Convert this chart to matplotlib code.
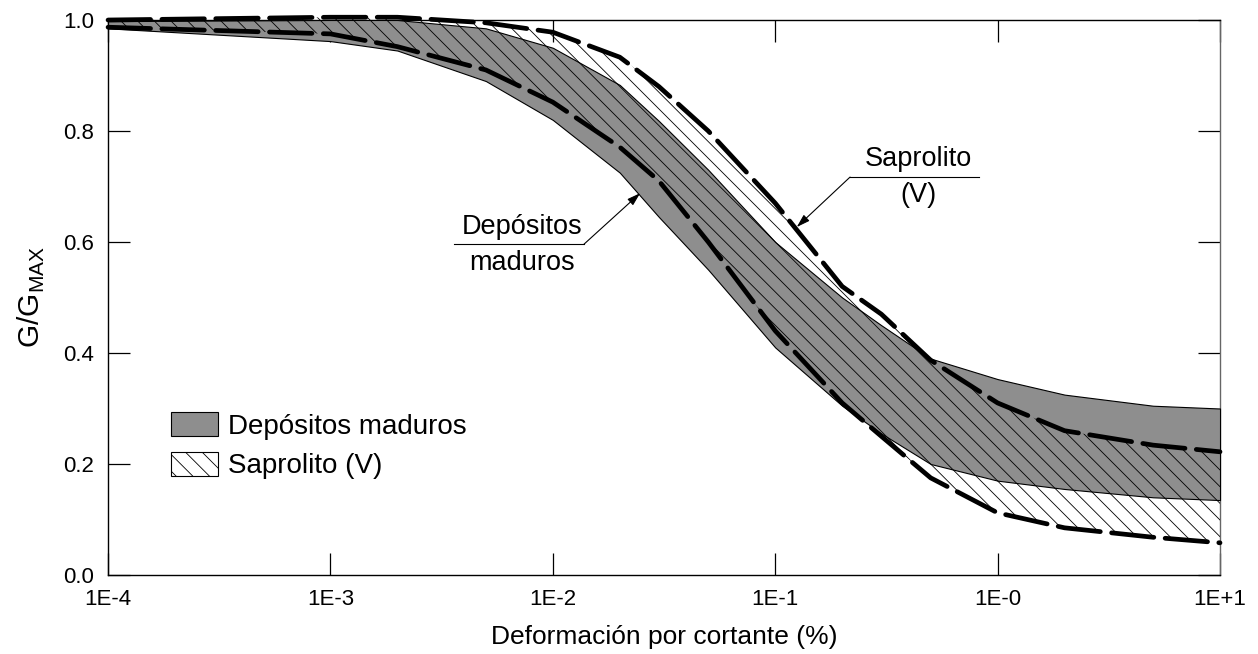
import matplotlib
matplotlib.use("Agg")
import matplotlib.pyplot as plt
from matplotlib.patches import Patch

plt.rcParams['font.family'] = ['Liberation Sans', 'DejaVu Sans']
plt.rcParams['mathtext.fontset'] = 'custom'
plt.rcParams['mathtext.rm'] = 'Liberation Sans'
plt.rcParams['hatch.linewidth'] = 0.6

# deformacion por cortante (%)
strain = [1e-4, 1e-3, 2e-3, 5e-3, 1e-2, 2e-2, 3e-2, 5e-2, 1e-1, 2e-1, 3e-1, 5e-1, 1, 2, 5, 10]

# Depositos maduros (banda gris)
dep_upper = [0.998, 1.0, 1.0, 0.985, 0.95, 0.883, 0.818, 0.73, 0.60, 0.50, 0.45, 0.39, 0.353, 0.325, 0.305, 0.30]
dep_lower = [0.985, 0.962, 0.945, 0.89, 0.82, 0.725, 0.645, 0.55, 0.41, 0.305, 0.255, 0.20, 0.17, 0.155, 0.14, 0.135]

# Saprolito (V) (banda rayada, limites a trazos)
sap_upper = [1.0, 1.005, 1.005, 0.995, 0.978, 0.933, 0.88, 0.80, 0.67, 0.52, 0.47, 0.387, 0.31, 0.26, 0.234, 0.222]
sap_lower = [0.987, 0.975, 0.952, 0.91, 0.852, 0.771, 0.71, 0.60, 0.44, 0.31, 0.25, 0.175, 0.112, 0.085, 0.068, 0.058]

xticks = [1e-4, 1e-3, 1e-2, 1e-1, 1, 10]
xticklabels = ['1E-4', '1E-3', '1E-2', '1E-1', '1E-0', '1E+1']
yticks = [0.0, 0.2, 0.4, 0.6, 0.8, 1.0]

fig = plt.figure(figsize=(12.58, 6.54), dpi=100)
ax = fig.add_axes([0.0859, 0.1208, 0.8839, 0.8486])

gray = '#8e8e8e'
ax.fill_between(strain, dep_lower, dep_upper, facecolor=gray, edgecolor='black',
                linewidth=0.8, zorder=3, clip_on=False)
ax.fill_between(strain, sap_lower, sap_upper, facecolor='none', edgecolor='black',
                hatch='\\\\', linewidth=0, zorder=4, clip_on=False)
for yy in (sap_upper, sap_lower):
    ax.plot(strain, yy, color='black', lw=3.4, dashes=(9, 2.4),
            dash_capstyle='round', zorder=5, clip_on=False)

ax.set_xscale('log')
ax.set_xlim(1e-4, 10)
ax.set_ylim(0, 1.0)
ax.set_xticks(xticks)
ax.set_xticklabels(xticklabels)
ax.xaxis.set_minor_locator(matplotlib.ticker.NullLocator())
ax.set_yticks(yticks)
ax.set_yticklabels(['%.1f' % v for v in yticks])
ax.tick_params(direction='in', length=16, width=0.9, top=True, right=True,
               labelsize=16, pad=10)
for s in ax.spines.values():
    s.set_linewidth(1.0)
ax.spines['right'].set_color('#666666')

ax.set_xlabel('Deformación por cortante (%)', fontsize=19, labelpad=11)
ax.set_ylabel(r'G/G$_{\rm MAX}$', fontsize=21.5, labelpad=12)

# anotaciones
ax.text(7.28e-3, 0.627, 'Depósitos', fontsize=19.5, ha='center', va='center', zorder=6)
ax.text(7.28e-3, 0.562, 'maduros', fontsize=19.5, ha='center', va='center', zorder=6)
ax.plot([3.6e-3, 1.38e-2], [0.596, 0.596], color='black', lw=0.8, zorder=6)
ax.annotate('', xy=(0.0247, 0.688), xytext=(1.38e-2, 0.596),
            arrowprops=dict(arrowstyle='-|>,head_length=0.8,head_width=0.25',
                            color='black', lw=0.8, shrinkA=0, shrinkB=0), zorder=6)

ax.text(0.44, 0.75, 'Saprolito', fontsize=19.5, ha='center', va='center', zorder=6)
ax.text(0.44, 0.685, '(V)', fontsize=19.5, ha='center', va='center', zorder=6)
ax.plot([0.217, 0.824], [0.717, 0.717], color='black', lw=0.8, zorder=6)
ax.annotate('', xy=(0.125, 0.627), xytext=(0.217, 0.717),
            arrowprops=dict(arrowstyle='-|>,head_length=0.8,head_width=0.25',
                            color='black', lw=0.8, shrinkA=0, shrinkB=0), zorder=6)

handles = [Patch(facecolor=gray, edgecolor='black', linewidth=0.8, label='Depósitos maduros'),
           Patch(facecolor='white', edgecolor='black', linewidth=0.8, hatch='\\\\', label='Saprolito (V)')]
ax.legend(handles=handles, loc='upper left', bbox_to_anchor=(0.034, 0.338), frameon=False,
          fontsize=20, handlelength=1.7, handleheight=0.95, handletextpad=0.35,
          labelspacing=0.42)

fig.savefig('out.png', dpi=100)
